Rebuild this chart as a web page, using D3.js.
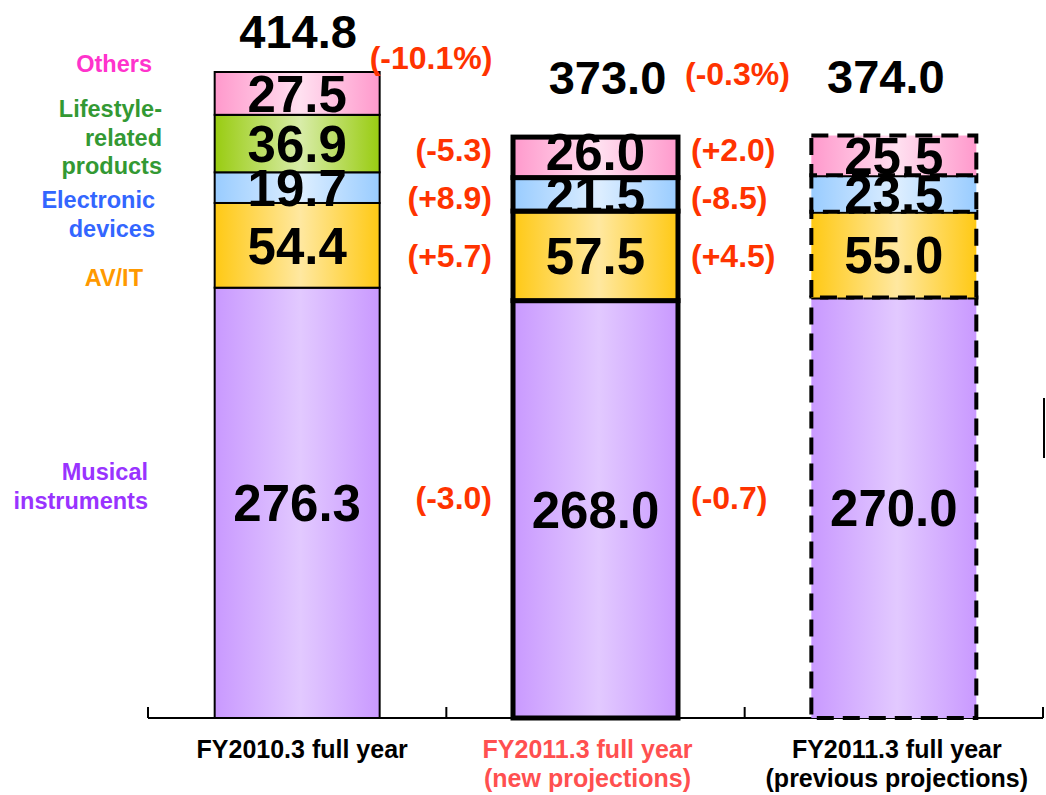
<!DOCTYPE html>
<html>
<head>
<meta charset="utf-8">
<script src="https://cdn.jsdelivr.net/npm/d3@7/dist/d3.min.js"></script>
<style>
    body { margin: 0; background: #fff; }
    svg { display: block; font-family: "Liberation Sans", Arial, sans-serif; font-weight: bold; }
</style>
</head>
<body>
<div id="chart"></div>
<script>
// Net sales by segment (billion yen)
var periods = ['FY2010.3', 'FY2011.3 new', 'FY2011.3 previous'];
var periodLabels = [
    ['FY2010.3 full year'],
    ['FY2011.3 full year', '(new projections)'],
    ['FY2011.3 full year', '(previous projections)']
];
var segmentKeys = ['musical', 'avit', 'electronic', 'lifestyle', 'others'];
var segmentNames = [
    ['Musical', 'instruments'],
    ['AV/IT'],
    ['Electronic', 'devices'],
    ['Lifestyle-', 'related', 'products'],
    ['Others']
];

var musical    = [276.3, 268.0, 270.0];
var avit       = [54.4, 57.5, 55.0];
var electronic = [19.7, 21.5, 23.5];
var lifestyle  = [36.9, 0, 0];
var others     = [27.5, 26.0, 25.5];
var totals     = [414.8, 373.0, 374.0];

var totalChanges = ['(-10.1%)', '(-0.3%)'];
// change by segment: musical, avit, electronic, others
var changeVsLastYear = ['(-3.0)', '(+5.7)', '(+8.9)', '(-5.3)'];
var changeVsPrevious = ['(-0.7)', '(+4.5)', '(-8.5)', '(+2.0)'];

// ---- styles ----
var segColors = {
    musical:    { edge: '#C999FF', mid: '#E2C9FF', text: '#9933FF' },
    avit:       { edge: '#FFC914', mid: '#FFE8A0', text: '#FF9900' },
    electronic: { edge: '#99CCFF', mid: '#DDEEFF', text: '#3366FF' },
    lifestyle:  { edge: '#99CC11', mid: '#D8ECA8', text: '#339933' },
    others:     { edge: '#FF99CC', mid: '#FFE0F0', text: '#FF33CC' }
};
// left legend placement: right edge x, first baseline y
var legendPos = {
    musical:    { x: 148, y: 480 },
    avit:       { x: 143, y: 286 },
    electronic: { x: 155, y: 208 },
    lifestyle:  { x: 162, y: 117 },
    others:     { x: 152, y: 72 }
};
var barStroke = [
    { w: 2, dash: null },
    { w: 5, dash: null },
    { w: 4, dash: '17,9' }
];
var changeColor = '#FF3300';

var width = 1046, height = 795;
var baseY = 718, axisLeft = 148, axisRight = 1043;

var svg = d3.select('#chart').append('svg')
    .attr('width', width)
    .attr('height', height);

var rows = periods.map(function(p, i) {
    return {
        period: p,
        musical: musical[i],
        avit: avit[i],
        electronic: electronic[i],
        lifestyle: lifestyle[i],
        others: others[i]
    };
});
var series = d3.stack().keys(segmentKeys)(rows);

var xScale = d3.scaleBand()
    .domain(periods)
    .range([axisLeft, axisRight])
    .paddingInner(0.447)
    .paddingOuter(0.2235);

var yScale = d3.scaleLinear()
    .domain([0, d3.max(totals)])
    .range([baseY, 72]);

var bw = xScale.bandwidth();

// gradients
var defs = svg.append('defs');
segmentKeys.forEach(function(k) {
    var g = defs.append('linearGradient')
        .attr('id', 'grad-' + k)
        .attr('x1', 0).attr('x2', 1).attr('y1', 0).attr('y2', 0);
    g.append('stop').attr('offset', '0%').attr('stop-color', segColors[k].edge);
    g.append('stop').attr('offset', '52%').attr('stop-color', segColors[k].mid);
    g.append('stop').attr('offset', '100%').attr('stop-color', segColors[k].edge);
});

// axis line and ticks at slot edges
svg.append('line')
    .attr('x1', axisLeft).attr('x2', axisRight)
    .attr('y1', baseY).attr('y2', baseY)
    .attr('stroke', '#000').attr('stroke-width', 2);

svg.selectAll('.tick')
    .data(d3.range(periods.length + 1))
    .enter()
    .append('line')
    .attr('x1', function(i) { return axisLeft + i * xScale.step(); })
    .attr('x2', function(i) { return axisLeft + i * xScale.step(); })
    .attr('y1', baseY - 11).attr('y2', baseY)
    .attr('stroke', '#000').attr('stroke-width', 2);

// stacked bars
series.forEach(function(layer) {
    var k = layer.key;
    svg.selectAll('.seg-' + k)
        .data(layer.filter(function(d) { return d[1] - d[0] > 0; }))
        .enter()
        .append('rect')
        .attr('x', function(d) { return xScale(d.data.period); })
        .attr('y', function(d) { return yScale(d[1]); })
        .attr('width', bw)
        .attr('height', function(d) { return yScale(d[0]) - yScale(d[1]); })
        .attr('fill', 'url(#grad-' + k + ')')
        .attr('stroke', '#000')
        .attr('stroke-width', function(d) { return barStroke[periods.indexOf(d.data.period)].w; })
        .attr('stroke-dasharray', function(d) { return barStroke[periods.indexOf(d.data.period)].dash; });
});

// values inside segments
series.forEach(function(layer) {
    svg.selectAll('.val-' + layer.key)
        .data(layer.filter(function(d) { return d[1] - d[0] > 0; }))
        .enter()
        .append('text')
        .attr('x', function(d) { return xScale(d.data.period) + bw / 2; })
        .attr('y', function(d) {
            var mid = (yScale(d[0]) + yScale(d[1])) / 2;
            // the "Others" value of the middle bar sits a little high
            if (layer.key === 'others' && d.data.period === periods[1]) mid -= 6;
            return mid;
        })
        .attr('dy', '0.36em')
        .attr('text-anchor', 'middle')
        .attr('font-size', '51px')
        .attr('fill', '#000')
        .text(function(d) { return (d[1] - d[0]).toFixed(1); });
});

// totals on top
var totalDx = [1, 12, -8];
var totalDy = [-41, -60, -59];
svg.selectAll('.total')
    .data(totals)
    .enter()
    .append('text')
    .attr('x', function(d, i) { return xScale(periods[i]) + bw / 2 + totalDx[i]; })
    .attr('y', function(d, i) { return yScale(d) + totalDy[i]; })
    .attr('dy', '0.36em')
    .attr('text-anchor', 'middle')
    .attr('font-size', '47px')
    .attr('fill', '#000')
    .text(function(d) { return d.toFixed(1); });

// total change (%)
var chgDx = [-10, 7];
var chgDy = [-15, -64];
svg.selectAll('.total-chg')
    .data(totalChanges)
    .enter()
    .append('text')
    .attr('x', function(d, i) { return xScale(periods[i]) + bw + chgDx[i]; })
    .attr('y', function(d, i) { return yScale(totals[i]) + chgDy[i]; })
    .attr('dy', '0.36em')
    .attr('text-anchor', 'start')
    .attr('font-size', '32px')
    .attr('fill', changeColor)
    .text(function(d) { return d; });

// segment changes, aligned to the middle bar's segments
var midBar = periods[1];
var changeKeys = ['musical', 'avit', 'electronic', 'others'];
var changeDy = [-12, 0, 3, -8];
function midCenter(k) {
    var layer = series[segmentKeys.indexOf(k)];
    var d = layer[1];
    return (yScale(d[0]) + yScale(d[1])) / 2;
}

svg.selectAll('.chg-left')
    .data(changeVsLastYear)
    .enter()
    .append('text')
    .attr('x', xScale(midBar) - 21)
    .attr('y', function(d, i) { return midCenter(changeKeys[i]) + changeDy[i]; })
    .attr('dy', '0.36em')
    .attr('text-anchor', 'end')
    .attr('font-size', '32px')
    .attr('fill', changeColor)
    .text(function(d) { return d; });

svg.selectAll('.chg-right')
    .data(changeVsPrevious)
    .enter()
    .append('text')
    .attr('x', xScale(midBar) + bw + 13)
    .attr('y', function(d, i) { return midCenter(changeKeys[i]) + changeDy[i]; })
    .attr('dy', '0.36em')
    .attr('text-anchor', 'start')
    .attr('font-size', '32px')
    .attr('fill', changeColor)
    .text(function(d) { return d; });

// segment names on the left
segmentKeys.forEach(function(k, i) {
    var t = svg.append('text')
        .attr('x', legendPos[k].x)
        .attr('y', legendPos[k].y)
        .attr('text-anchor', 'end')
        .attr('font-size', '23.5px')
        .attr('fill', segColors[k].text);
    segmentNames[i].forEach(function(line, j) {
        t.append('tspan')
            .attr('x', legendPos[k].x)
            .attr('dy', j === 0 ? 0 : 28.5)
            .text(line);
    });
});

// category labels
var catColors = ['#000', '#FF5050', '#000'];
var catDx = [5, -8, 3];
periodLabels.forEach(function(lines, i) {
    var cx = xScale(periods[i]) + bw / 2 + catDx[i];
    var t = svg.append('text')
        .attr('x', cx)
        .attr('y', 758)
        .attr('text-anchor', 'middle')
        .attr('font-size', '25px')
        .attr('fill', catColors[i]);
    lines.forEach(function(line, j) {
        t.append('tspan')
            .attr('x', cx)
            .attr('dy', j === 0 ? 0 : 29)
            .text(line);
    });
});

// stray edge mark at the right border
svg.append('line')
    .attr('x1', 1044).attr('x2', 1044)
    .attr('y1', 398).attr('y2', 458)
    .attr('stroke', '#000').attr('stroke-width', 2);
</script>
</body>
</html>
